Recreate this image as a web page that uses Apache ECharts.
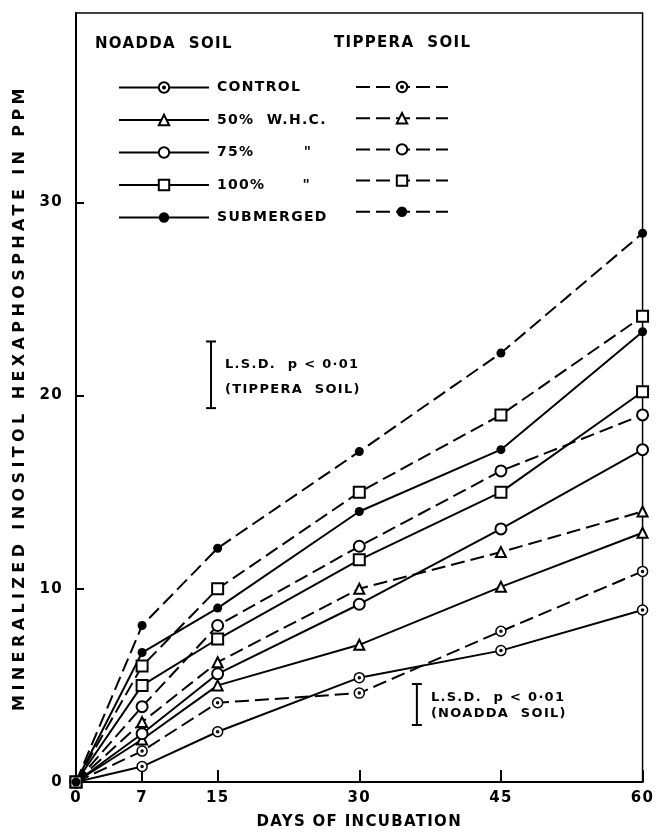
<!DOCTYPE html>
<html>
<head>
<meta charset="utf-8">
<script src="https://cdn.jsdelivr.net/npm/echarts@6/dist/echarts.min.js"></script>
<style>html,body{margin:0;padding:0;background:#fff}#c{width:656px;height:835px}</style>
</head>
<body>
<div id="c"></div>
<script>
// ---- data ----
const days = [0, 7, 15, 30, 45, 60];
const xTickLabels = [0, 7, 15, 30, 45, 60];
const yTickLabels = [0, 10, 20, 30];

const noaddaControl   = [0, 0.8, 2.6, 5.4, 6.8, 8.9];
const noadda50        = [0, 2.2, 5.0, 7.1, 10.1, 12.9];
const noadda75        = [0, 2.5, 5.6, 9.2, 13.1, 17.2];
const noadda100       = [0, 5.0, 7.4, 11.5, 15.0, 20.2];
const noaddaSubmerged = [0, 6.7, 9.0, 14.0, 17.2, 23.3];

const tipperaControl   = [0, 1.6, 4.1, 4.6, 7.8, 10.9];
const tippera50        = [0, 3.1, 6.2, 10.0, 11.9, 14.0];
const tippera75        = [0, 3.9, 8.1, 12.2, 16.1, 19.0];
const tippera100       = [0, 6.0, 10.0, 15.0, 19.0, 24.1];
const tipperaSubmerged = [0, 8.1, 12.1, 17.1, 22.2, 28.4];

const treatmentNames = ['CONTROL', '50%  W.H.C.', '75%', '100%', 'SUBMERGED'];
const legendLabels = ['CONTROL', '50%  W.H.C.', '75%        "', '100%      "', 'SUBMERGED'];
// LSD bars: [day, low, high]
const lsdTippera = [14.3, 19.35, 22.8];
const lsdNoadda  = [36.1, 2.95, 5.07];

const Y_NAME = 'MINERALIZED INOSITOL HEXAPHOSPHATE IN PPM';
const X_NAME = 'DAYS OF INCUBATION';

// wide lettering like the original (canvas letter spacing)
(function () {
  const proto = CanvasRenderingContext2D.prototype;
  const orig = proto.fillText;
  proto.fillText = function (text, x, y, maxW) {
    if (!('letterSpacing' in this)) return maxW === undefined ? orig.call(this, text, x, y) : orig.call(this, text, x, y, maxW);
    const prev = this.letterSpacing;
    this.letterSpacing = (text === Y_NAME) ? '4.4px' : '1.3px';
    const r = maxW === undefined ? orig.call(this, text, x, y) : orig.call(this, text, x, y, maxW);
    this.letterSpacing = prev;
    return r;
  };
})();

// ---- styling ----
const FONT = 'DejaVu Sans';
const controlSymbol = 'path://M0,-5A5,5 0 1,1 0,5A5,5 0 1,1 0,-5Z M0,-1A1,1 0 1,1 0,1A1,1 0 1,1 0,-1Z';
const symbols = [controlSymbol, 'emptyTriangle', 'emptyCircle', 'emptyRect', 'circle'];
const symbolSizes = [10, 10, 11, 11, 9];
const noaddaSets = [noaddaControl, noadda50, noadda75, noadda100, noaddaSubmerged];
const tipperaSets = [tipperaControl, tippera50, tippera75, tippera100, tipperaSubmerged];

function pairs(vals) { return days.map((d, i) => [d, vals[i]]); }

function makeSeries(prefix, sets, dashed) {
  return sets.map((vals, i) => {
    const isControl = i === 0;
    return {
      name: prefix + treatmentNames[i],
      type: 'line',
      data: pairs(vals),
      symbol: symbols[i],
      symbolSize: symbolSizes[i],
      showAllSymbol: true,
      z: 3,
      lineStyle: { color: '#000', width: 2, type: dashed ? [14, 6] : 'solid' },
      itemStyle: isControl ? { color: '#fff', borderColor: '#000', borderWidth: 1.5 }
                           : { color: '#000', borderWidth: 1.5 },
      emphasis: { disabled: true },
      animation: false
    };
  });
}

function lsdSeries(arr, label2) {
  return {
    type: 'custom',
    data: [arr],
    silent: true,
    animation: false,
    z: 4,
    renderItem: function (params, api) {
      const top = api.coord([api.value(0), api.value(2)]);
      const bot = api.coord([api.value(0), api.value(1)]);
      const x = top[0];
      const st = { stroke: '#000', lineWidth: 2 };
      const h = bot[1] - top[1];
      return {
        type: 'group',
        children: [
          { type: 'line', shape: { x1: x, y1: top[1], x2: x, y2: bot[1] }, style: st },
          { type: 'line', shape: { x1: x - 5, y1: top[1], x2: x + 5, y2: top[1] }, style: st },
          { type: 'line', shape: { x1: x - 5, y1: bot[1], x2: x + 5, y2: bot[1] }, style: st },
          { type: 'text', style: { text: 'L.S.D.  p < 0·01', x: x + 14, y: top[1] + h * 0.34, fontFamily: FONT, fontWeight: 'bold', fontSize: 13, fill: '#000', verticalAlign: 'middle' } },
          { type: 'text', style: { text: label2, x: x + 14, y: top[1] + h * 0.72, fontFamily: FONT, fontWeight: 'bold', fontSize: 13, fill: '#000', verticalAlign: 'middle' } }
        ]
      };
    }
  };
}

const noaddaSeries = makeSeries('', noaddaSets, false);
const tipperaSeries = makeSeries('Tippera ', tipperaSets, true);

const chart = echarts.init(document.getElementById('c'));
chart.setOption({
  backgroundColor: '#fff',
  animation: false,
  textStyle: { fontFamily: FONT },
  grid: { left: 76, right: 12, top: 13, bottom: 52, show: true, borderColor: '#000', borderWidth: 1.5 },
  xAxis: {
    type: 'value', min: 0, max: 60,
    name: X_NAME, nameLocation: 'middle', nameGap: 33,
    nameTextStyle: { fontFamily: FONT, fontWeight: 'bold', fontSize: 15, color: '#000' },
    axisLine: { lineStyle: { color: '#000', width: 2 } },
    axisTick: { inside: true, length: 12, customValues: xTickLabels, lineStyle: { color: '#000', width: 2 } },
    axisLabel: { customValues: xTickLabels, color: '#000', fontWeight: 'bold', fontSize: 15, margin: 9, fontFamily: FONT },
    splitLine: { show: false }
  },
  yAxis: {
    type: 'value', min: 0, max: 39.8,
    name: Y_NAME, nameLocation: 'middle', nameGap: 48, nameRotate: 90,
    nameTextStyle: { fontFamily: FONT, fontWeight: 'bold', fontSize: 16, color: '#000' },
    axisLine: { lineStyle: { color: '#000', width: 2 } },
    axisTick: { inside: true, length: 8, customValues: [10, 20, 30], lineStyle: { color: '#000', width: 2 } },
    axisLabel: { customValues: yTickLabels, color: '#000', fontWeight: 'bold', fontSize: 15, margin: 13, fontFamily: FONT },
    splitLine: { show: false }
  },
  legend: [
    {
      data: noaddaSeries.map(s => s.name),
      orient: 'vertical', left: 113, top: 75.5,
      itemWidth: 90, itemHeight: 13, itemGap: 18.5,
      formatter: name => legendLabels[treatmentNames.indexOf(name)],
      textStyle: { fontFamily: FONT, fontWeight: 'bold', fontSize: 14, color: '#000', padding: [0, 0, 0, 3] },
      selectedMode: false
    },
    {
      data: tipperaSeries.map(s => s.name),
      orient: 'vertical', left: 350, top: 75.5,
      itemWidth: 92, itemHeight: 13, itemGap: 18.5,
      formatter: () => '',
      selectedMode: false
    }
  ],
  graphic: [
    { type: 'text', left: 95, top: 37, style: { text: 'NOADDA  SOIL', fontFamily: FONT, fontWeight: 'bold', fontSize: 15, fill: '#000' } },
    { type: 'text', left: 334, top: 36, style: { text: 'TIPPERA  SOIL', fontFamily: FONT, fontWeight: 'bold', fontSize: 15, fill: '#000' } }
  ],
  series: [...noaddaSeries, ...tipperaSeries, lsdSeries(lsdTippera, '(TIPPERA  SOIL)'), lsdSeries(lsdNoadda, '(NOADDA  SOIL)')]
});
</script>
</body>
</html>
